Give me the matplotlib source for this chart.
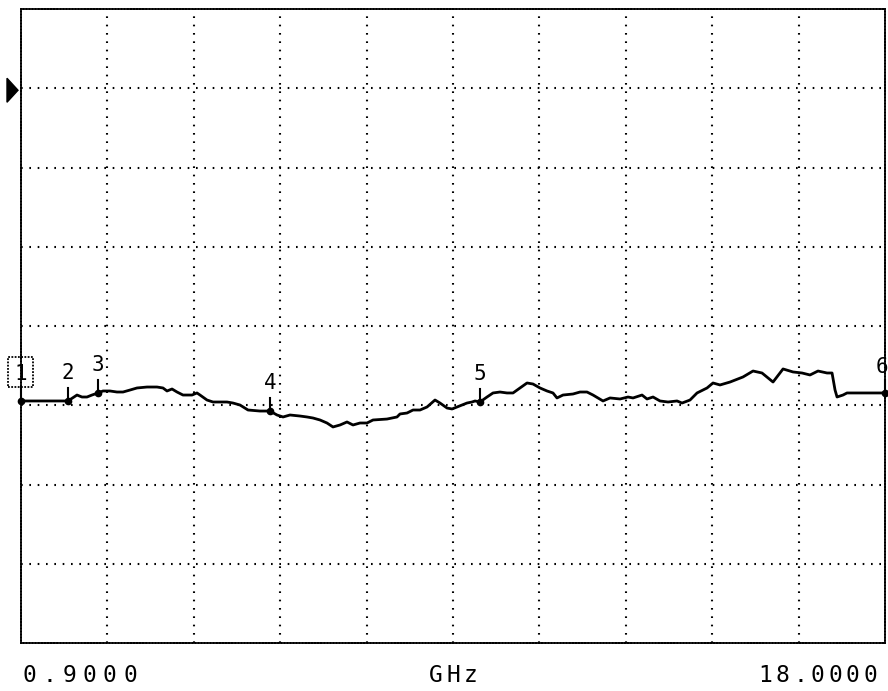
import numpy as np
import matplotlib
matplotlib.use('Agg')
import matplotlib.pyplot as plt
from matplotlib.patches import Rectangle, Polygon

# sweep limits (GHz) and screen layout
f_start = 0.9
f_stop = 18.0
n_xdiv = 10
n_ydiv = 8
ref_level = 7.0  # reference arrow, divisions from bottom

# trace: frequency (GHz) vs level (divisions from bottom of screen)
freq = [0.900, 1.830, 2.008, 2.107, 2.206, 2.305, 2.424, 2.523, 2.661, 2.800,
        2.919, 3.057, 3.196, 3.394, 3.592, 3.710, 3.790, 3.889, 3.988, 4.106,
        4.284, 4.383, 4.443, 4.581, 4.700, 4.839, 4.977, 5.096, 5.234, 5.393,
        5.630, 5.828, 5.967, 6.086, 6.224, 6.422, 6.561, 6.679, 6.818, 6.956,
        7.075, 7.214, 7.352, 7.471, 7.610, 7.748, 7.867, 8.144, 8.342, 8.401,
        8.540, 8.659, 8.797, 8.936, 9.094, 9.193, 9.332, 9.431, 9.530, 9.628,
        9.727, 9.826, 9.886, 9.985, 10.123, 10.242, 10.380, 10.519, 10.638, 10.776,
        10.915, 11.033, 11.172, 11.311, 11.429, 11.508, 11.627, 11.825, 11.964, 12.102,
        12.221, 12.419, 12.558, 12.756, 12.914, 13.013, 13.191, 13.290, 13.409, 13.547,
        13.706, 13.884, 13.983, 14.141, 14.280, 14.478, 14.596, 14.735, 14.933, 15.190,
        15.388, 15.566, 15.784, 15.982, 16.180, 16.358, 16.516, 16.674, 16.853, 16.952,
        17.011, 17.051, 17.169, 17.248, 17.446, 18.000]
level = [3.054, 3.054, 3.129, 3.104, 3.104, 3.129, 3.155, 3.180, 3.180, 3.167,
         3.167, 3.192, 3.218, 3.230, 3.230, 3.218, 3.180, 3.205, 3.167, 3.129,
         3.129, 3.155, 3.129, 3.066, 3.041, 3.041, 3.041, 3.028, 3.003, 2.940,
         2.927, 2.927, 2.877, 2.852, 2.877, 2.864, 2.852, 2.839, 2.814, 2.776,
         2.726, 2.751, 2.789, 2.751, 2.776, 2.776, 2.814, 2.826, 2.852, 2.890,
         2.902, 2.940, 2.940, 2.978, 3.066, 3.028, 2.965, 2.953, 2.978, 3.003,
         3.028, 3.041, 3.054, 3.041, 3.104, 3.155, 3.167, 3.155, 3.155, 3.218,
         3.281, 3.268, 3.218, 3.180, 3.155, 3.092, 3.129, 3.142, 3.167, 3.167,
         3.129, 3.054, 3.092, 3.079, 3.104, 3.092, 3.129, 3.079, 3.104, 3.054,
         3.041, 3.054, 3.028, 3.066, 3.155, 3.218, 3.281, 3.256, 3.293, 3.357,
         3.432, 3.407, 3.293, 3.458, 3.420, 3.407, 3.382, 3.432, 3.407, 3.407,
         3.193, 3.104, 3.129, 3.155, 3.155, 3.155]

marker_ids = ['1', '2', '3', '4', '5', '6']
marker_freq = [0.9, 1.83, 2.424, 5.828, 9.985, 18.0]

start_label = '0.9000'
unit_label = 'GHz'
stop_label = '18.0000'

W, H = 888, 691
fig = plt.figure(figsize=(W / 100, H / 100), dpi=100)
fig.patch.set_facecolor('white')
ax = fig.add_axes([21 / W, 48 / H, 864 / W, 634 / H])
ax.set_xlim(f_start, f_stop)
ax.set_ylim(0, n_ydiv)

# screen graticule
ax.set_xticks(np.linspace(f_start, f_stop, n_xdiv + 1)[1:-1])
ax.set_yticks(np.arange(1, n_ydiv))
ax.grid(True, color='black', lw=1.5, linestyle=(0, (0.8, 3.2)))
ax.tick_params(length=0, labelbottom=False, labelleft=False)
for sp in ax.spines.values():
    sp.set_linestyle((0, (1, 0.7)))
    sp.set_linewidth(1.3)

# pixel -> data conversion helpers (for decorations sized in pixels)
px_f = (f_stop - f_start) / 864
px_d = n_ydiv / 634

ax.plot(freq, level, color='black', lw=2.0, clip_on=False, zorder=3)

mlev = np.interp(marker_freq, freq, level)
ax.plot(marker_freq, mlev, 'o', color='black', ms=4.5, clip_on=False, zorder=4)

lab_font = dict(fontsize=15, family='DejaVu Sans Mono', clip_on=False)
for mid, f, l in zip(marker_ids, marker_freq, mlev):
    if mid == '1':
        # active marker: dotted box with the number
        ax.plot([f, f], [l, l + 14 * px_d], color='black', lw=1.5, clip_on=False)
        ax.add_patch(Rectangle((f - 13 * px_f, l + 14 * px_d), 25 * px_f, 30 * px_d,
                               fill=False, ec='black', lw=1.3,
                               linestyle=(0, (1, 0.8)), clip_on=False))
        ax.text(f, l + 21 * px_d, mid, ha='center', va='baseline', **lab_font)
        continue
    ax.plot([f, f], [l, l + 13 * px_d], color='black', lw=1.5, clip_on=False)
    if mid == '6':
        ax.text(f + 3 * px_f, l + 20 * px_d, mid, ha='right', va='baseline', **lab_font)
    else:
        ax.text(f, l + 22 * px_d, mid, ha='center', va='baseline', **lab_font)

# reference level arrow at the left edge
ax.add_patch(Polygon([[f_start - 14 * px_f, ref_level + 10 * px_d],
                      [f_start - 3 * px_f, ref_level - 2 * px_d],
                      [f_start - 14 * px_f, ref_level - 14 * px_d]],
                     closed=True, fc='black', ec='black', clip_on=False))


def spaced_text(x0, pitch, s, y=682):
    for k, ch in enumerate(s):
        fig.text((x0 + k * pitch) / W, 1 - y / H, ch, ha='center', va='baseline',
                 fontsize=16.5, family='DejaVu Sans Mono')


spaced_text(29, 20.2, start_label)
spaced_text(436, 17.5, unit_label)
spaced_text(765, 17.5, stop_label)

fig.savefig('out.png', dpi=100, facecolor='white')
